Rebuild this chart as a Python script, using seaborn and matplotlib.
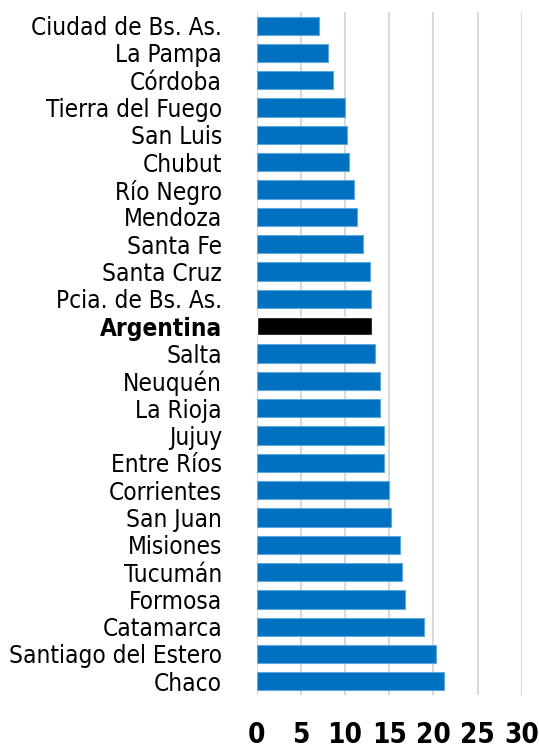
import matplotlib
matplotlib.use("Agg")
import matplotlib.pyplot as plt
import seaborn as sns
import pandas as pd

# -------- Data (top to bottom) --------
provinces = [
    "Ciudad de Bs. As.", "La Pampa", "Córdoba", "Tierra del Fuego", "San Luis",
    "Chubut", "Río Negro", "Mendoza", "Santa Fe", "Santa Cruz",
    "Pcia. de Bs. As.", "Argentina", "Salta", "Neuquén", "La Rioja",
    "Jujuy", "Entre Ríos", "Corrientes", "San Juan", "Misiones",
    "Tucumán", "Formosa", "Catamarca", "Santiago del Estero", "Chaco",
]
values = [
    7.0, 8.1, 8.6, 10.0, 10.25,
    10.5, 11.0, 11.3, 12.0, 12.85,
    12.9, 13.05, 13.4, 13.9, 13.9,
    14.45, 14.45, 15.0, 15.2, 16.2,
    16.5, 16.8, 18.9, 20.25, 21.2,
]
x_ticks = [0, 5, 10, 15, 20, 25, 30]

HIGHLIGHT = "Argentina"
BLUE = "#0070C0"

df = pd.DataFrame({"provincia": provinces, "valor": values})
colors = {p: ("#000000" if p == HIGHLIGHT else BLUE) for p in provinces}

sns.set_style("white")
plt.rcParams["font.family"] = ["DejaVu Sans"]
plt.rcParams["font.stretch"] = "condensed"

fig = plt.figure(figsize=(5.39, 7.51), dpi=100)
ax = fig.add_axes([0.4763, 0.0746, 0.4917, 0.9094])

sns.barplot(data=df, y="provincia", x="valor", hue="provincia", palette=colors,
            saturation=1, legend=False, orient="h", width=0.67, ax=ax, zorder=3)
for patch, p in zip(ax.patches, provinces):
    if p != HIGHLIGHT:
        patch.set_edgecolor("#5fa8dc")
        patch.set_linewidth(0.8)

ax.set_xlim(0, 30)
ax.set_ylim(len(provinces) - 0.5, -0.5)
ax.set_xticks(x_ticks)
ax.xaxis.grid(True, color="#d9d9d9", linewidth=1.5, zorder=0)
ax.yaxis.grid(False)
for s in ax.spines.values():
    s.set_visible(False)
ax.set_xlabel("")
ax.set_ylabel("")
ax.tick_params(axis="x", length=0, pad=19, labelsize=20, labelcolor="black")
ax.tick_params(axis="y", length=0, pad=25, labelsize=17.5, labelcolor="black")
for lbl in ax.get_xticklabels():
    lbl.set_fontweight("bold")
    lbl.set_fontstretch("condensed")
for lbl in ax.get_yticklabels():
    lbl.set_fontstretch("condensed")
    if lbl.get_text() == HIGHLIGHT:
        lbl.set_fontweight("bold")

fig.savefig("out.png", dpi=100)
plt.close(fig)
